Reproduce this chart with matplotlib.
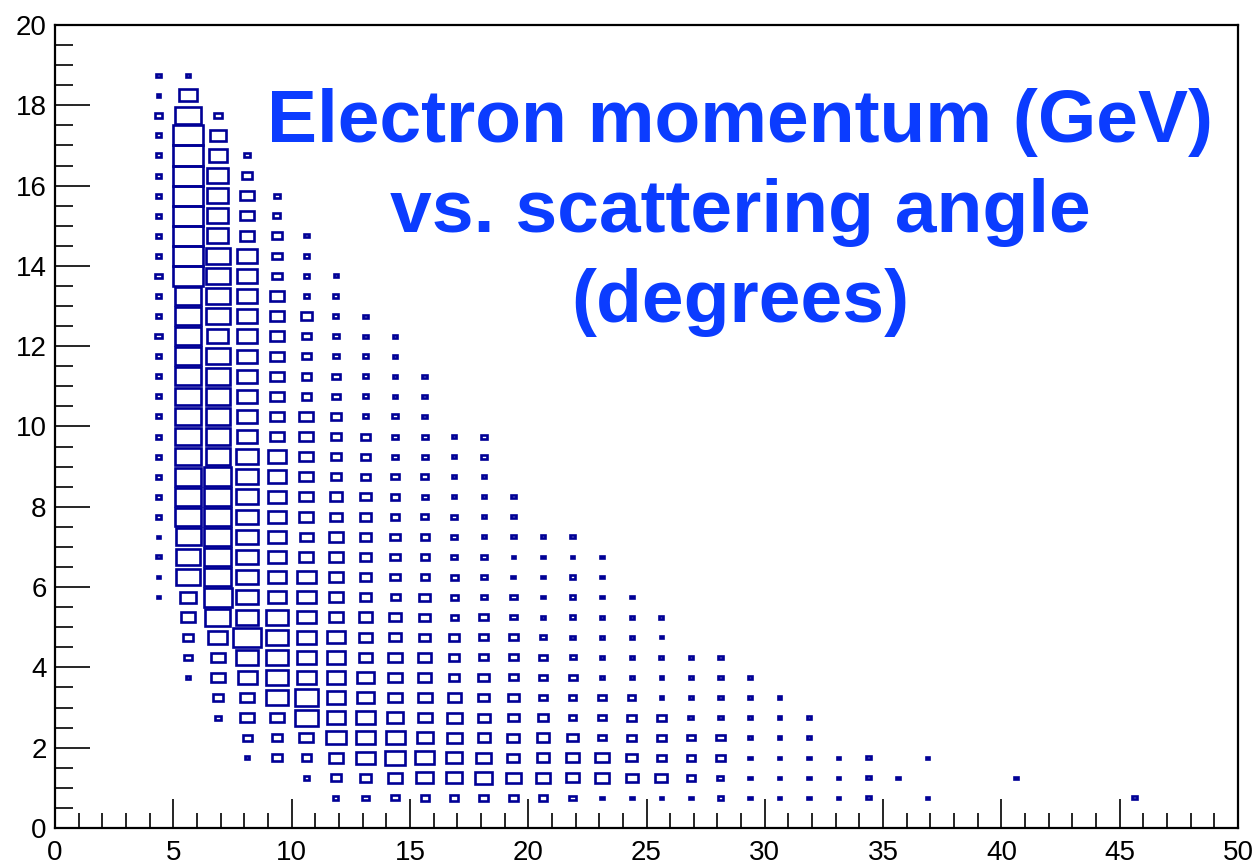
import numpy as np
import matplotlib
matplotlib.use("Agg")
import matplotlib.pyplot as plt
from matplotlib.patches import Rectangle
from matplotlib.collections import PatchCollection
from matplotlib.ticker import MultipleLocator

# Binning: scattering angle 0-50 deg in 1.25 deg bins, momentum 0-20 GeV in 0.5 GeV bins
angle_bin_width = 1.25
momentum_bin_width = 0.5

# Entries per angle bin (key = angle bin index), listed upward starting
# from the 0.5-1.0 GeV momentum bin
col_03 = [0] * 10 + [17, 17, 22, 17, 40, 40, 40, 40, 40, 40, 40, 40, 40, 48, 40, 40, 48,
                     40, 40, 40, 40, 40, 40, 40, 48, 17, 20]
col_04 = [0] * 6 + [22, 68, 109, 250, 302, 640, 672, 722, 774, 810, 810, 774, 774, 774, 774,
                    774, 774, 774, 774, 810, 1000, 1000, 1000, 1000, 1000, 1000, 1000, 1000,
                    757, 360, 20]
col_05 = [0] * 4 + [40, 109, 221, 221, 384, 722, 902, 846, 810, 810, 846, 846, 846, 672, 672,
                    672, 672, 672, 672, 533, 672, 672, 672, 672, 533, 533, 533, 533, 360, 302, 73]
col_06 = [0] * 2 + [22, 90, 221, 221, 422, 533, 865, 533, 533, 533, 533, 533, 533, 533, 533,
                    533, 449, 449, 449, 449, 449, 449, 449, 449, 449, 449, 221, 221, 221, 109, 40]
col_07 = [0] * 2 + [109, 109, 221, 562, 562, 562, 562, 562, 384, 384, 384, 384, 384, 384, 384,
                    384, 221, 221, 221, 221, 221, 221, 221, 221, 109, 109, 109, 53, 40]
col_08 = [0] + [29, 109, 221, 640, 640, 384, 384, 384, 384, 384, 384, 221, 185, 221, 221, 221,
                221, 221, 221, 102, 102, 102, 102, 130, 29, 29, 29, 22]
col_09 = [29, 122, 250, 462, 384, 384, 384, 384, 336, 221, 221, 221, 221, 250, 185, 185, 122,
          122, 122, 122, 73, 73, 32, 40, 29, 29, 22]
col_10 = [53, 144, 384, 384, 384, 302, 302, 221, 221, 221, 160, 144, 137, 137, 137, 137, 90, 90,
          90, 40, 40, 40, 40, 22, 22]
col_11 = [62, 221, 462, 422, 302, 221, 221, 221, 160, 160, 90, 102, 102, 102, 78, 78, 62, 40, 40,
          40, 17, 17, 22, 22]
col_12 = [78, 314, 397, 302, 221, 221, 185, 176, 130, 130, 130, 78, 78, 73, 62, 40, 48, 40, 40,
          29, 22, 22]
col_13 = [73, 302, 302, 250, 250, 202, 122, 109, 122, 62, 62, 62, 40, 40, 40, 22, 22, 22, 22]
col_14 = [90, 336, 250, 176, 160, 144, 144, 90, 90, 90, 48, 40, 48, 22, 22, 22, 22, 40, 40]
col_15 = [90, 270, 160, 160, 122, 122, 90, 90, 90, 48, 48, 17, 14, 22, 22, 22]
col_16 = [78, 250, 185, 185, 109, 62, 62, 62, 40, 17, 17, 17, 14, 22]
col_17 = [48, 202, 202, 130, 62, 62, 73, 40, 29, 32, 32, 29, 14, 22]
col_18 = [17, 221, 221, 73, 73, 73, 17, 17, 17, 17, 17, 17, 17]
col_19 = [17, 176, 130, 90, 90, 62, 17, 17, 17, 17, 17]
col_20 = [14, 160, 90, 90, 90, 14, 14, 17, 14, 17]
col_21 = [14, 78, 78, 78, 29, 14, 14, 14]
col_22 = [29, 40, 78, 78, 22, 22, 22, 29]
col_23 = [14, 14, 14, 14, 14, 14, 14]
col_24 = [14, 14, 14, 14, 14, 14]
col_25 = [14, 14, 14, 14, 14]
col_26 = [14, 14, 14]
col_27 = [22, 22, 22]
col_28 = [0, 14]
col_29 = [14, 0, 14]
col_32 = [0, 14]
col_36 = [22]

columns = {3: col_03, 4: col_04, 5: col_05, 6: col_06, 7: col_07, 8: col_08, 9: col_09,
           10: col_10, 11: col_11, 12: col_12, 13: col_13, 14: col_14, 15: col_15,
           16: col_16, 17: col_17, 18: col_18, 19: col_19, 20: col_20, 21: col_21,
           22: col_22, 23: col_23, 24: col_24, 25: col_25, 26: col_26, 27: col_27,
           28: col_28, 29: col_29, 32: col_32, 36: col_36}
first_momentum_bin = 1

title_lines = ["Electron momentum (GeV)", "vs. scattering angle", "(degrees)"]
x_ticks = [0, 5, 10, 15, 20, 25, 30, 35, 40, 45, 50]
y_ticks = [0, 2, 4, 6, 8, 10, 12, 14, 16, 18, 20]

plt.rcParams['font.family'] = ['Liberation Sans', 'DejaVu Sans']

W, H, DPI = 1258, 867, 100
fig = plt.figure(figsize=(W / DPI, H / DPI), dpi=DPI)
ax = fig.add_axes([55 / W, 1 - 828 / H, (1238 - 55) / W, (828 - 25) / H])
ax.set_xlim(0, 50)
ax.set_ylim(0, 20)

# Box histogram: box area proportional to the cell content
cmax = max(max(v) for v in columns.values())
boxes = []
for j, counts in columns.items():
    xc = (j + 0.5) * angle_bin_width
    for i, c in enumerate(counts):
        if c <= 0:
            continue
        yc = (first_momentum_bin + i + 0.5) * momentum_bin_width
        r = np.sqrt(c / cmax)
        w = angle_bin_width * r
        h = momentum_bin_width * r
        boxes.append(Rectangle((xc - w / 2, yc - h / 2), w, h))
ax.add_collection(PatchCollection(boxes, facecolor='none', edgecolor='#000096',
                                  linewidth=1.9, joinstyle='miter'))

# Overlay title inside the frame
title_x = 28.95
for k, line in enumerate(title_lines):
    ybase = (828 - (142 + 90 * k)) / 40.15
    ax.text(title_x, ybase, line, ha='center', va='baseline', fontsize=54,
            fontweight='bold', color='#0b3cff')

# Axes styling
for s in ax.spines.values():
    s.set_linewidth(1.6)
    s.set_color('black')
ax.set_xticks(x_ticks)
ax.set_yticks(y_ticks)
ax.xaxis.set_minor_locator(MultipleLocator(1))
ax.yaxis.set_minor_locator(MultipleLocator(0.5))
ax.tick_params(axis='x', which='major', direction='in', length=21, width=1.2,
               labelsize=20, pad=9, top=False)
ax.tick_params(axis='x', which='minor', direction='in', length=11, width=1.2, top=False)
ax.tick_params(axis='y', which='major', direction='in', length=25, width=1.2,
               labelsize=20, pad=6, right=False)
ax.tick_params(axis='y', which='minor', direction='in', length=13, width=1.2, right=False)

fig.savefig('out.png', dpi=DPI)
